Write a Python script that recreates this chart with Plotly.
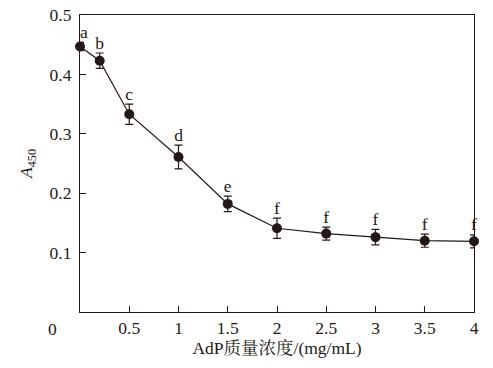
import plotly.graph_objects as go

conc = [0, 0.2, 0.5, 1, 1.5, 2, 2.5, 3, 3.5, 4]
a450 = [0.447, 0.423, 0.333, 0.261, 0.182, 0.141, 0.132, 0.126, 0.120, 0.119]
err = [0.007, 0.013, 0.017, 0.020, 0.013, 0.017, 0.011, 0.013, 0.011, 0.011]
letters = ["a", "b", "c", "d", "e", "f", "f", "f", "f", "f"]
xticks = [0.5, 1, 1.5, 2, 2.5, 3, 3.5, 4]
yticks = [0.1, 0.2, 0.3, 0.4, 0.5]

ink = "#231815"
serif = "Liberation Serif, Noto Serif CJK SC, Noto Sans CJK SC"
fs = 17.5

fig = go.Figure()
fig.add_trace(go.Scatter(
    x=conc, y=a450, mode="lines+markers",
    line=dict(color=ink, width=1.2),
    marker=dict(color=ink, size=10),
    error_y=dict(type="data", array=err, visible=True, color=ink, thickness=1.2, width=4),
    cliponaxis=False, showlegend=False,
))
fig.add_trace(go.Scatter(
    x=conc, y=[v + e for v, e in zip(a450, err)], mode="text", text=letters,
    textposition=["top right"] + ["top center"] * (len(letters) - 1),
    textfont=dict(family=serif, size=fs, color=ink),
    cliponaxis=False, showlegend=False,
))

fig.add_annotation(x=0, y=0, xref="x", yref="y", text="0", showarrow=False,
                   xanchor="center", yanchor="top", xshift=-28, yshift=-5,
                   font=dict(family=serif, size=fs, color=ink))

fig.update_layout(
    width=493, height=368,
    margin=dict(l=80, r=19, t=15, b=56, autoexpand=False),
    paper_bgcolor="white", plot_bgcolor="white",
    font=dict(family=serif, size=fs, color=ink),
    xaxis=dict(range=[0, 4], tickvals=xticks, ticktext=[str(v) for v in xticks],
               ticks="inside", ticklen=6, tickcolor=ink, showline=True, linecolor=ink,
               linewidth=1.2, mirror=True, showgrid=False, zeroline=False, automargin=False,
               tickfont=dict(family=serif, size=fs, color=ink),
               title=dict(text="AdP质量浓度/(mg/mL)", standoff=4,
                          font=dict(family=serif, size=fs, color=ink))),
    yaxis=dict(range=[0, 0.5], tickvals=yticks, ticktext=[str(v) for v in yticks],
               ticks="inside", ticklen=6, tickcolor=ink, showline=True, linecolor=ink,
               linewidth=1.2, mirror=True, showgrid=False, zeroline=False, automargin=False,
               ticklabelstandoff=4,
               tickfont=dict(family=serif, size=fs, color=ink),
               title=dict(text="<i>A</i><sub>450</sub>", standoff=12,
                          font=dict(family=serif, size=fs, color=ink))),
)
fig.write_html("out.html", config={"displayModeBar": False},
               post_script="document.body.style.margin='0';")
